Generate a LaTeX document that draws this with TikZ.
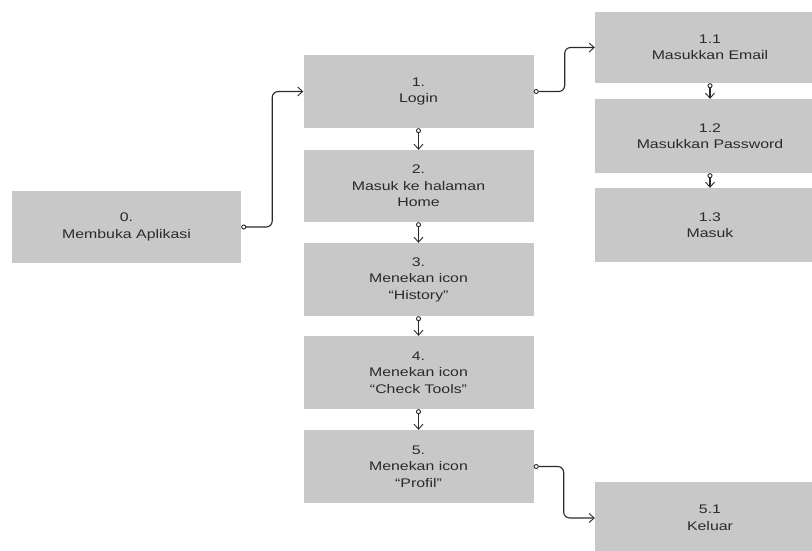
\documentclass[tikz,border=0pt]{standalone}
\usepackage{fontspec}
\newfontfamily\boxfont{Liberation Sans}[FakeStretch=1.27]
\usetikzlibrary{arrows.meta}
\definecolor{boxgray}{HTML}{C8C8C8}
\definecolor{ink}{HTML}{2A2A2A}
\tikzset{
  stepbox/.style={rectangle, fill=boxgray, draw=none, inner sep=0pt,
    minimum width=230pt, minimum height=73pt, align=center, text=ink,
    font=\boxfont\fontsize{12.5}{16.5}\selectfont},
  conn/.style={draw=ink, line width=1.1pt, rounded corners=6pt,
    {Circle[open,length=5pt,width=5pt,line width=0.9pt]}-{Straight Barb[length=5pt,width=9pt,line width=0.9pt]}}
}
\begin{document}
\begin{tikzpicture}[x=1pt,y=-1pt]
\useasboundingbox[fill=white] (0,0) rectangle (812,550);
\node[stepbox, minimum width=229pt, minimum height=72pt] (n0) at (126.5,227) {0.\\Membuka Aplikasi};
\node[stepbox] (n1) at (418.5,91.5) {1.\\Login};
\node[stepbox, minimum height=72pt] (n2) at (418.5,186) {2.\\Masuk ke halaman\\Home};
\node[stepbox] (n3) at (418.5,279.5) {3.\\Menekan icon\\“History”};
\node[stepbox] (n4) at (418.5,372.5) {4.\\Menekan icon\\“Check Tools”};
\node[stepbox] (n5) at (418.5,466.5) {5.\\Menekan icon\\“Profil”};
\node[stepbox, minimum height=71pt] (n11) at (710,47.5) {1.1\\Masukkan Email};
\node[stepbox, minimum height=74pt] (n12) at (710,136) {1.2\\Masukkan Password};
\node[stepbox, minimum height=74pt] (n13) at (710,225) {1.3\\Masuk};
\node[stepbox, minimum height=72pt] (n51) at (710,518) {5.1\\Keluar};
\draw[conn] (n0.east) -- ++(31,0) |- (n1.west);
\draw[conn] (n1.east) -- ++(31,0) |- (n11.west);
\draw[conn] (n5.east) -- ++(30,0) |- (n51.west);
\draw[conn] (n1.south) -- (n2.north);
\draw[conn] (n2.south) -- (n3.north);
\draw[conn] (n3.south) -- (n4.north);
\draw[conn] (n4.south) -- (n5.north);
\draw[conn] (n11.south) -- (n12.north);
\draw[conn] (n12.south) -- (n13.north);
\end{tikzpicture}
\end{document}
